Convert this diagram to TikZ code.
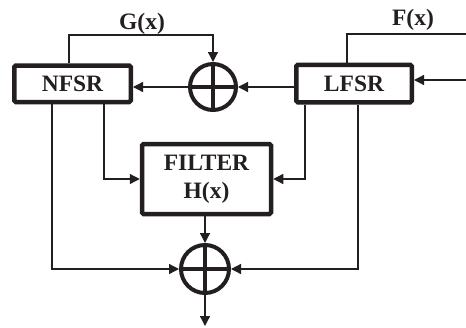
\documentclass[tikz,border=0pt]{standalone}
\usepackage{fontspec}
\setmainfont{Liberation Serif}
\usetikzlibrary{arrows.meta}
\definecolor{ink}{RGB}{35,31,32}
\begin{document}
\begin{tikzpicture}[x=1pt,y=-1pt,
  blockbox/.style={draw=ink, line width=4.5pt, rounded corners=1.5pt, inner sep=0pt,
    font=\fontsize{23.5}{28}\selectfont\bfseries, text=ink, align=center},
  xorgate/.style={circle, draw=ink, line width=4pt, minimum size=46pt, inner sep=0pt},
  crossbar/.style={draw=ink, line width=4pt},
  wire/.style={draw=ink, line width=1.3pt},
  arr/.style={wire, -{Triangle[length=10pt,width=10pt]}},
  lbl/.style={font=\fontsize{23.5}{26}\selectfont\bfseries, text=ink}]
\useasboundingbox (0,0) rectangle (466,327);
% blocks
\node[blockbox, minimum width=116.5pt, minimum height=36.5pt] (nfsr) at (72.5,83.8) {NFSR};
\node[blockbox, minimum width=115.5pt, minimum height=37.5pt] (lfsr) at (354,83.5) {LFSR};
\node[blockbox, minimum width=129pt, minimum height=70pt] (filter) at (206.5,179) {FILTER\\H(x)};
\node[xorgate] (topxor) at (213,87) {};
\node[xorgate, minimum size=48pt] (botxor) at (205,269) {};
\draw[crossbar] (topxor.north) -- (topxor.south) (topxor.west) -- (topxor.east);
\draw[crossbar] (botxor.north) -- (botxor.south) (botxor.west) -- (botxor.east);
% labels
\node[lbl] (glabel) at (142,24) {G(x)};
\node[lbl] (flabel) at (413,19.5) {F(x)};
% helper coordinates
\coordinate (ga) at (69,35);
\coordinate (fa) at (347,34);
\coordinate (fe) at (466,34);
\coordinate (inp) at (466,80);
\coordinate (n1) at (52,269);
\coordinate (n2) at (104,179);
\coordinate (l1) at (305,179);
\coordinate (l2) at (358,269);
\coordinate (out) at (205,326);
% connectors
\draw[arr] (ga |- nfsr.north) -- (ga) -| (topxor.north);
\draw[wire] (fa |- lfsr.north) -- (fa) -- (fe);
\draw[arr] (inp) -- (inp -| lfsr.east);
\draw[arr] (lfsr.west |- topxor.east) -- (topxor.east);
\draw[arr] (topxor.west) -- (topxor.west -| nfsr.east);
\draw[arr] (n1 |- nfsr.south) |- (botxor.west);
\draw[arr] (n2 |- nfsr.south) |- (filter.west);
\draw[arr] (l1 |- lfsr.south) |- (filter.east);
\draw[arr] (l2 |- lfsr.south) |- (botxor.east);
\draw[arr] (filter.south -| botxor.north) -- (botxor.north);
\draw[arr] (botxor.south) -- (out);
\end{tikzpicture}
\end{document}
